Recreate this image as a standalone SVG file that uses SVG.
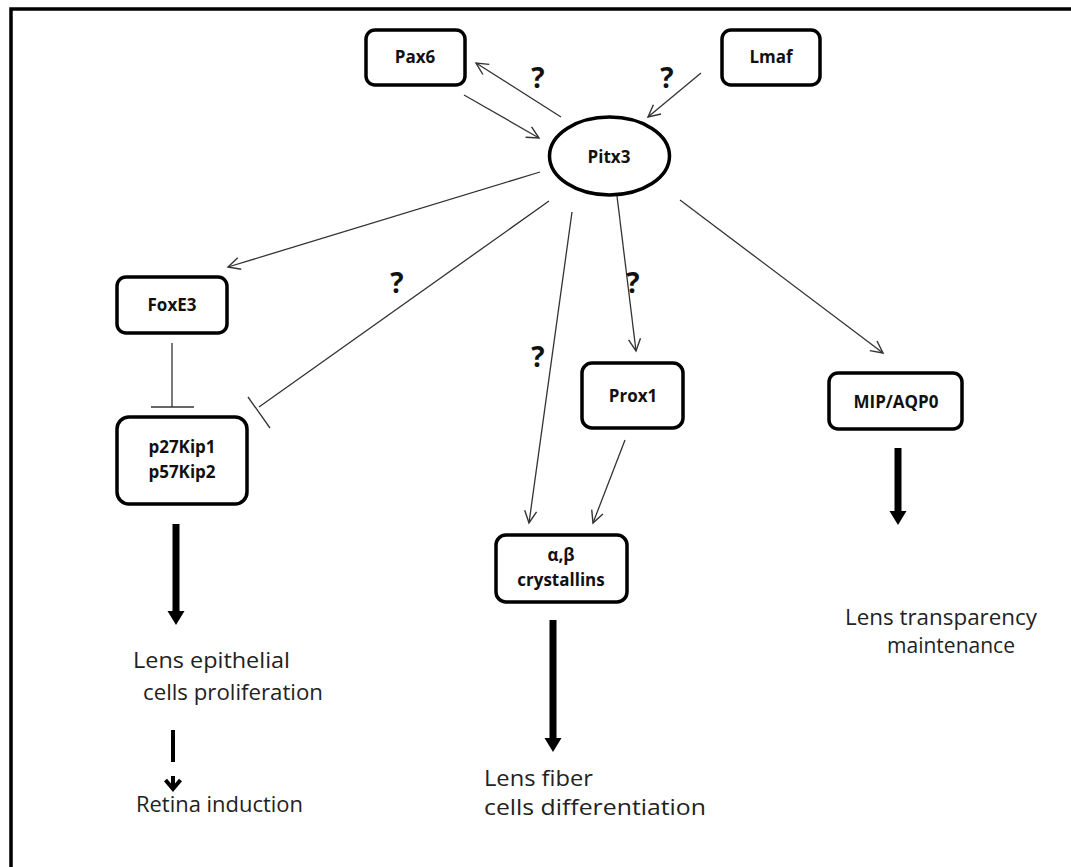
<svg xmlns="http://www.w3.org/2000/svg" width="1071" height="867" viewBox="0 0 1071 867">
<defs>
<marker id="open" markerUnits="userSpaceOnUse" markerWidth="16" markerHeight="16" viewBox="-13 -8 16 16" refX="0" refY="0" orient="auto">
<path d="M -12 -6 L 0 0 L -12 6" fill="none" stroke="#333" stroke-width="1.4"/>
</marker>
</defs>
<style>
.box{fill:#fff;stroke:#000;stroke-width:3.5}
.lbl{font-family:"Open Sans","Liberation Sans",sans-serif;font-weight:bold;font-size:17px;text-anchor:middle;fill:#111}
.q{font-family:"Open Sans","Liberation Sans",sans-serif;font-weight:bold;font-size:28px;text-anchor:middle;fill:#111}
.ln{stroke:#333;stroke-width:1.3;fill:none}
.arr{stroke:#333;stroke-width:1.3;fill:none;marker-end:url(#open)}
.big{font-family:"Open Sans","Noto Sans",sans-serif;font-size:22px;fill:#222}
.thick{fill:#000}
</style>
<rect x="11" y="9" width="1100" height="900" fill="#fff" stroke="#000" stroke-width="3.5"/>
<g id="connectors">
<line class="arr" x1="561" y1="117" x2="476" y2="63"/>
<line class="arr" x1="464" y1="95" x2="539" y2="138"/>
<line class="arr" x1="701" y1="73" x2="648" y2="117"/>
<line class="arr" x1="540" y1="172" x2="228" y2="267"/>
<line class="ln" x1="549" y1="201" x2="259" y2="407"/>
<line class="ln" x1="248" y1="397" x2="270" y2="428" stroke-width="1.5"/>
<line class="ln" x1="172" y1="343" x2="172" y2="407"/>
<line class="ln" x1="151" y1="407" x2="194" y2="407" stroke-width="1.5"/>
<line class="arr" x1="572" y1="212" x2="529" y2="523"/>
<line class="arr" x1="617" y1="196" x2="636" y2="351"/>
<line class="arr" x1="625" y1="440" x2="593" y2="523"/>
<line class="arr" x1="680" y1="200" x2="883" y2="353"/>
<path class="thick" d="M172.5 524 H179.5 V611 H184.5 L176 625 L167.5 611 H172.5 Z"/>
<path class="thick" d="M549.5 620 H556.5 V738 H561.5 L553 752 L544.5 738 H549.5 Z"/>
<path class="thick" d="M894.5 448 H901.5 V511 H906.5 L898 525 L889.5 511 H894.5 Z"/>
<rect class="thick" x="171" y="730" width="4" height="32"/>
<rect class="thick" x="171" y="776" width="4" height="13"/>
<path d="M165.5 780 L173 789 L180.5 780" fill="none" stroke="#000" stroke-width="4"/>
</g>
<g id="q-labels">
<text class="q" x="538" y="88">?</text>
<text class="q" x="667" y="88">?</text>
<text class="q" x="397" y="293">?</text>
<text class="q" x="633" y="293">?</text>
<text class="q" x="538" y="367">?</text>
</g>
<g id="pax6"><rect class="box" x="366" y="30" width="99" height="55" rx="9"/><text class="lbl" x="415" y="63">Pax6</text></g>
<g id="lmaf"><rect class="box" x="722" y="30" width="98" height="55" rx="9"/><text class="lbl" x="771" y="63">Lmaf</text></g>
<g id="pitx3"><ellipse class="box" cx="609.5" cy="156" rx="60" ry="39"/><text class="lbl" x="609" y="163">Pitx3</text></g>
<g id="foxe3"><rect class="box" x="117" y="277" width="110" height="56" rx="9"/><text class="lbl" x="172" y="311">FoxE3</text></g>
<g id="p27"><rect class="box" x="117" y="417" width="130" height="87" rx="12"/><text class="lbl" x="182" y="453">p27Kip1</text><text class="lbl" x="182" y="478">p57Kip2</text></g>
<g id="prox1"><rect class="box" x="582" y="363" width="101" height="65" rx="10"/><text class="lbl" x="633" y="402">Prox1</text></g>
<g id="crystallins"><rect class="box" x="496" y="535" width="131" height="67" rx="10"/><text class="lbl" x="561" y="561">α,β</text><text class="lbl" x="561" y="586">crystallins</text></g>
<g id="mip"><rect class="box" x="829" y="373" width="133" height="56" rx="9"/><text class="lbl" x="896" y="408">MIP/AQP0</text></g>
<g id="outcomes">
<text class="big" x="133" y="668" textLength="157" lengthAdjust="spacingAndGlyphs">Lens epithelial</text>
<text class="big" x="143" y="700" textLength="180" lengthAdjust="spacingAndGlyphs">cells proliferation</text>
<text class="big" x="136" y="812" textLength="167" lengthAdjust="spacingAndGlyphs">Retina induction</text>
<text class="big" x="484" y="786" textLength="109" lengthAdjust="spacingAndGlyphs">Lens fiber</text>
<text class="big" x="484" y="815" textLength="222" lengthAdjust="spacingAndGlyphs">cells differentiation</text>
<text class="big" x="845" y="625" textLength="192" lengthAdjust="spacingAndGlyphs">Lens transparency</text>
<text class="big" x="887" y="653" textLength="128" lengthAdjust="spacingAndGlyphs">maintenance</text>
</g>
</svg>
